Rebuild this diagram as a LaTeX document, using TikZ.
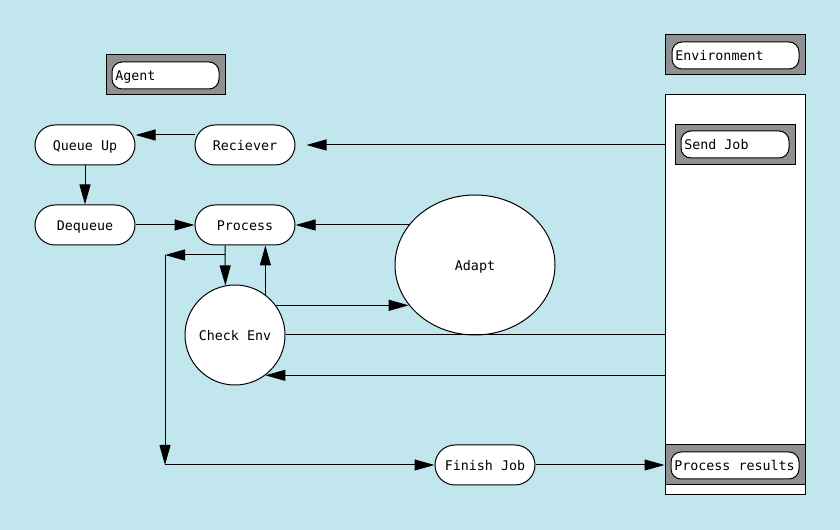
\documentclass[tikz,border=0pt]{standalone}
\usepackage{fontspec}
\setmonofont{DejaVu Sans Mono}
\usetikzlibrary{arrows.meta,shapes.geometric}
\definecolor{bgc}{HTML}{C2E6EE}
\definecolor{boxgray}{HTML}{909090}
\newcommand{\tagtext}[2]{\makebox[#1][l]{#2}}
\begin{document}
\begin{tikzpicture}[x=0.75pt,y=-0.75pt,
  every node/.style={font=\ttfamily\fontsize{10}{12}\selectfont, line width=0.75pt},
  pill/.style={draw, fill=white, rounded corners=15pt, minimum width=75pt, minimum height=30pt, inner sep=0pt, text height=9pt, text depth=0pt},
  graybox/.style={draw, fill=boxgray, minimum height=30pt, inner sep=0pt},
  tag/.style={draw, fill=white, rounded corners=7.5pt, minimum height=20.25pt, inner xsep=2.5pt, inner ysep=0pt, text height=7pt, text depth=0pt},
  roundnode/.style={draw, fill=white, circle, minimum size=75pt, inner sep=0pt, text height=8.5pt, text depth=0pt},
  arr/.style={line width=0.75pt, -{Triangle[length=15pt,width=8.25pt]}},
  ln/.style={line width=0.75pt}]
\fill[bgc] (0,0) rectangle (840,530);
\useasboundingbox (0,0) rectangle (840,530);
% agent label
\node[graybox, minimum width=89.25pt] (agbox) at (165.5,75) {};
\node[tag] (ag) at (165.5,75.5) {\tagtext{75.25pt}{Agent}};
% environment
\node[graybox, minimum width=105pt] (envlbl) at (735,55) {};
\node[tag] (envt) at (735.5,55.5) {\tagtext{90.25pt}{Environment}};
\node[draw, fill=white, minimum width=105pt, minimum height=300pt, inner sep=0pt] (env) at (735,295) {};
\node[graybox, minimum width=90pt] (sjbox) at (735,145) {};
\node[tag] (sj) at (735,144.5) {\tagtext{76pt}{Send Job}};
\node[graybox, minimum width=105pt] (prbox) at (735,465) {};
\node[tag] (pr) at (735,465.5) {\tagtext{91pt}{Process results}};
% agent nodes
\node[pill] (qu) at (85,145) {Queue Up};
\node[pill] (rec) at (245,145) {Reciever};
\node[pill] (deq) at (85,225) {Dequeue};
\node[pill] (proc) at (245,225) {Process};
\node[draw, fill=white, ellipse, minimum width=120pt, minimum height=105pt, inner sep=0pt, text height=8.5pt, text depth=0pt] (adapt) at (475,265) {Adapt};
\node[roundnode] (check) at (235,335) {Check Env};
\node[pill] (fin) at (485,465) {Finish Job};
\coordinate (bl) at (165,255);
\coordinate (bb) at (165,465);
% connectors
\draw[arr] ([yshift=7.5pt]rec.west) -- ([yshift=7.5pt]qu.east);
\draw[arr] (env.west |- rec.east) -- ([xshift=8.25pt]rec.east);
\draw[arr] (qu.south) -- (deq.north);
\draw[arr] (deq.east) -- (proc.west);
\draw[arr] (proc.east -| adapt.148.8) -- (proc.east);
\draw[arr] ([xshift=-15pt]proc.south) -- (check.101.54);
\draw[arr] (check.53.13) -- (check.53.13 |- proc.south);
\draw[arr] (bl -| check.101.54) -- (bl);
\draw[arr] (bl) -- (bb);
\draw[arr] (bb) -- (fin.west);
\draw[arr] (check.36.87) -- (check.36.87 -| adapt.211.2);
\draw[ln] (check.east) -- (check.east -| env.west);
\draw[arr] (check.-53.13 -| env.west) -- (check.-53.13);
\draw[arr] (fin.east) -- (prbox.west);
\end{tikzpicture}
\end{document}
